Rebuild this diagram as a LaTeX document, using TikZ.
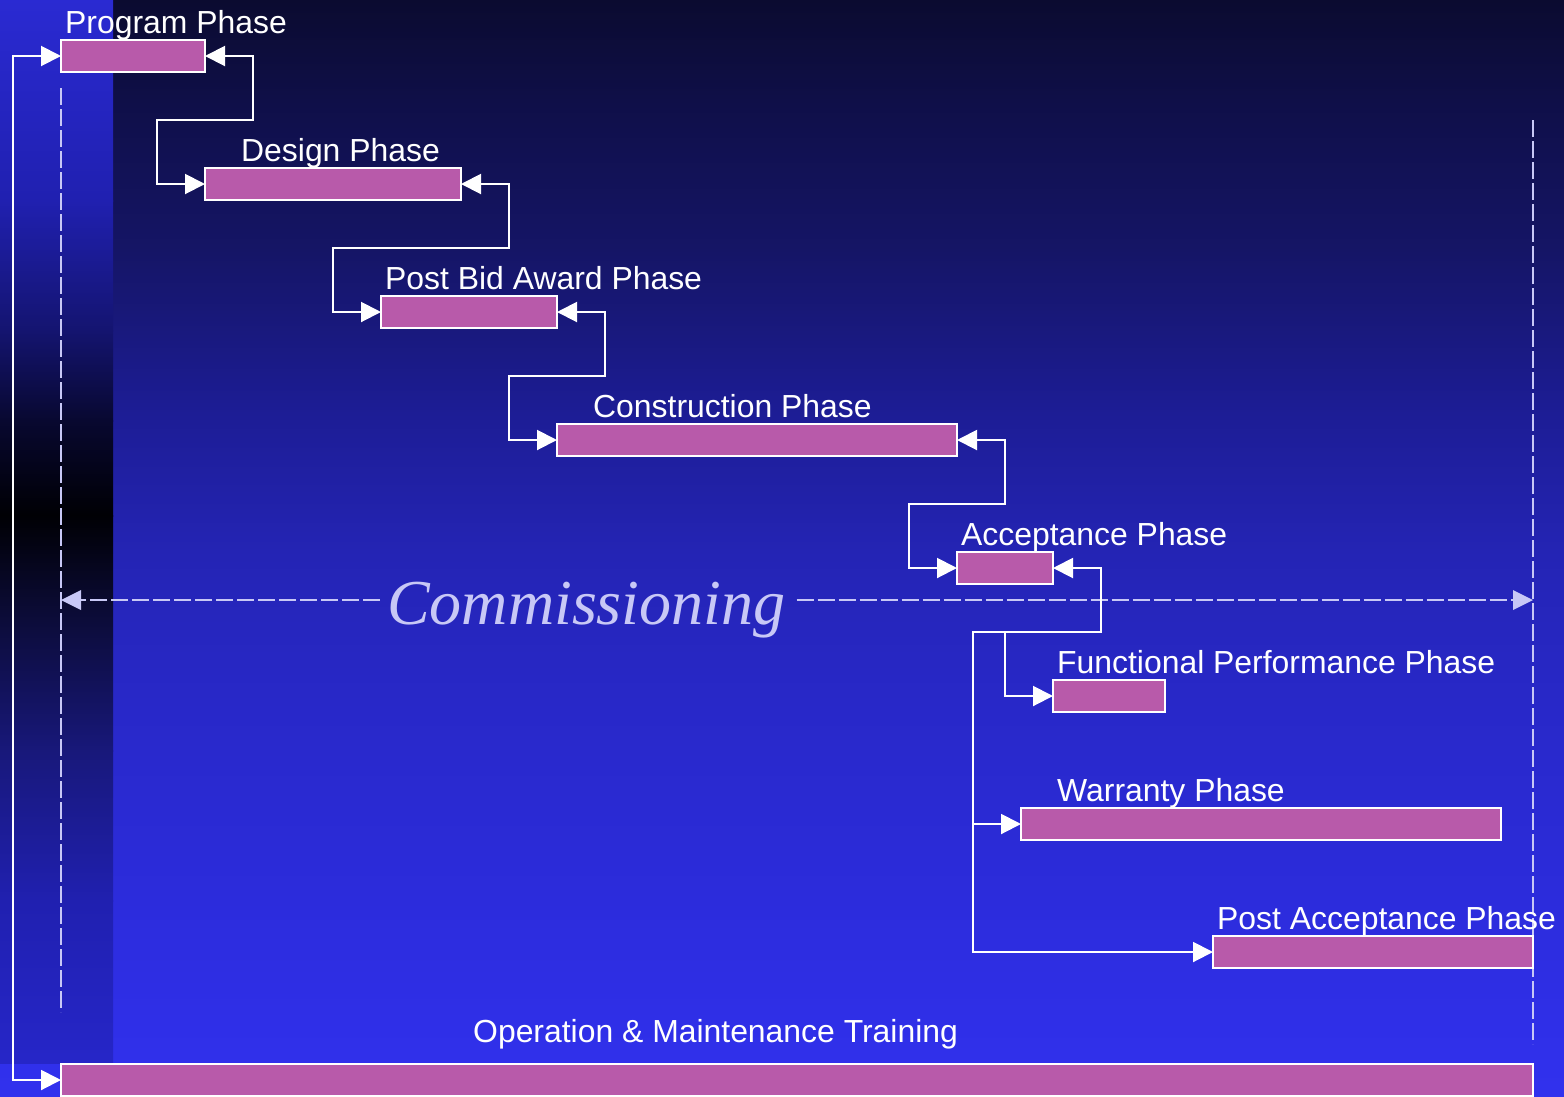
\documentclass[tikz,border=0pt]{standalone}
\usepackage{fontspec}
\setmainfont{Liberation Sans}
\newfontfamily\commfont{Liberation Serif}
\usetikzlibrary{arrows.meta}

% palette
\definecolor{barpink}{HTML}{B85AAA}
\definecolor{guidelav}{HTML}{C8C8F6}
% main background stops (top to bottom)
\definecolor{m0}{HTML}{0B0B30}
\definecolor{m1}{HTML}{0F0F48}
\definecolor{m2}{HTML}{151566}
\definecolor{m3}{HTML}{1C1C92}
\definecolor{m4}{HTML}{2424B4}
\definecolor{m5}{HTML}{2828C8}
\definecolor{m6}{HTML}{2C2CDC}
\definecolor{m7}{HTML}{3131EE}
% left band stops
\definecolor{s0}{HTML}{2A2AD2}
\definecolor{s1}{HTML}{2020B0}
\definecolor{s2}{HTML}{141470}
\definecolor{s3}{HTML}{080830}
\definecolor{s4}{HTML}{000004}
\definecolor{s5}{HTML}{0A0A30}
\definecolor{s6}{HTML}{18187A}
\definecolor{s7}{HTML}{2020B0}
\definecolor{s8}{HTML}{2626C8}

\tikzset{
  bar/.style={draw=white, line width=2pt, fill=barpink, inner sep=0pt, outer sep=0pt,
              minimum height=32pt, anchor=north west},
  lbl/.style={text=white, inner sep=0pt, anchor=base west, font=\fontsize{31.9}{38}\selectfont},
  tipw/.tip={Triangle[length=20pt, width=20pt]},
  link/.style={draw=white, line width=2pt, {tipw}-{tipw}},
  linkto/.style={draw=white, line width=2pt, -{tipw}},
  guide/.style={draw=guidelav, line width=2pt, dash pattern=on 17pt off 4pt},
  guidetip/.style={guide, -{Triangle[length=20pt, width=20pt, fill=guidelav, line width=0pt]}},
}

\begin{document}
\begin{tikzpicture}[x=1pt, y=-1pt]
\useasboundingbox (0,0) rectangle (1564,1096);

% background, piecewise vertical gradient
\foreach \ya/\yb/\ca/\cb in {0/100/m0/m1, 100/250/m1/m2, 250/400/m2/m3, 400/550/m3/m4,
                             550/700/m4/m5, 700/900/m5/m6, 900/1096/m6/m7}
  \shade[top color=\ca, bottom color=\cb] (0,\ya) rectangle (1564,\yb+1);
% left band, dark toward the middle
\foreach \ya/\yb/\ca/\cb in {0/200/s0/s1, 200/330/s1/s2, 330/420/s2/s3, 420/515/s3/s4,
                             515/600/s4/s5, 600/750/s5/s6, 750/900/s6/s7, 900/1062/s7/s8}
  \shade[top color=\ca, bottom color=\cb] (0,\ya) rectangle (113,\yb+1);

% dashed guides
\coordinate (gl1) at (61,88);   \coordinate (gl2) at (61,1012);
\coordinate (gr1) at (1533,120); \coordinate (gr2) at (1533,1044);
\draw[guide] (gl1) -- (gl2);
\draw[guide] (gr1) -- (gr2);

% bars
\node[bar, minimum width=144pt]  (prog) at (61,40)   {};
\node[bar, minimum width=256pt]  (des)  at (205,168) {};
\node[bar, minimum width=176pt]  (pba)  at (381,296) {};
\node[bar, minimum width=400pt]  (con)  at (557,424) {};
\node[bar, minimum width=96pt]   (acc)  at (957,552) {};
\node[bar, minimum width=112pt]  (fun)  at (1053,680) {};
\node[bar, minimum width=480pt]  (war)  at (1021,808) {};
\node[bar, minimum width=320pt]  (pac)  at (1213,936) {};
\node[bar, minimum width=1472pt] (om)   at (61,1064) {};

% labels
\node[lbl] (progL) at (65,33)    {Program Phase};
\node[lbl] (desL)  at (241,161)  {Design Phase};
\node[lbl] (pbaL)  at (385,289)  {Post Bid Award Phase};
\node[lbl] (conL)  at (593,417)  {Construction Phase};
\node[lbl] (accL)  at (961,545)  {Acceptance Phase};
\node[lbl] (funL)  at (1057,673) {Functional Performance Phase};
\node[lbl] (warL)  at (1057,801) {Warranty Phase};
\node[lbl] (pacL)  at (1217,929) {Post Acceptance Phase};
\node[lbl] (omL)   at (473,1042) {Operation \& Maintenance Training};

% commissioning span
\node[inner sep=0pt, anchor=base west, text=guidelav,
      font=\commfont\itshape\fontsize{64}{70}\selectfont] (comm) at (387,624) {Commissioning};
\coordinate (cL) at (61,600);
\coordinate (cR) at (1533,600);
\draw[guidetip] ([xshift=-7pt]comm.west |- cL) -- (cL);
\draw[guidetip] ([xshift=11pt]comm.east |- cR) -- (cR);

% phase links
\draw[link] (prog.east) -| (253,120) -| (157,184) -- (des.west);
\draw[link] (des.east)  -| (509,248) -| (333,312) -- (pba.west);
\draw[link] (pba.east)  -| (605,376) -| (509,440) -- (con.west);
\draw[link] (con.east)  -| (1005,504) -| (909,568) -- (acc.west);
\draw[link] (acc.east)  -| (1101,632) -| (1005,696) -- (fun.west);

% branch to the later phases
\coordinate (split) at (1005,632);
\coordinate (trunk) at (973,824);
\draw[linkto] (split) -- (973,632) |- (pac.west);
\draw[linkto] (trunk) -- (war.west);

% outer loop from program to training
\draw[link] (prog.west) -- (13,56) -- (13,1080) -- (om.west);
\end{tikzpicture}
\end{document}
